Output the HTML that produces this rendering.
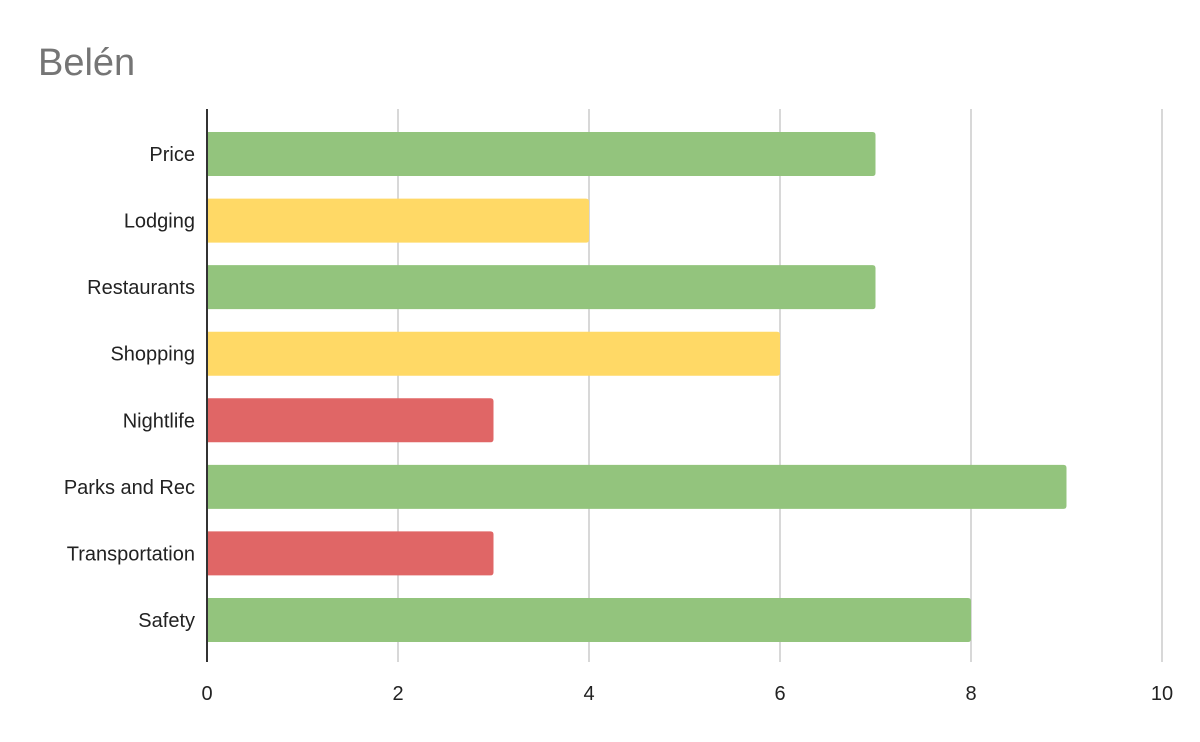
<!DOCTYPE html>
<html><head><meta charset="utf-8"><style>
html,body{margin:0;padding:0;background:#fff;}
svg{display:block;font-family:"Liberation Sans",Arial,sans-serif;}
</style></head><body>
<svg id="chart" width="1200" height="742">
<text x="38" y="75" font-size="38" fill="#757575">Belén</text>
<g id="grid"></g><g id="bars"></g><g id="labels"></g>
<line x1="207" y1="109" x2="207" y2="662" stroke="#333" stroke-width="2"/>
</svg>
<script>
const categories = ["Price","Lodging","Restaurants","Shopping","Nightlife","Parks and Rec","Transportation","Safety"];
const values = [7,4,7,6,3,9,3,8];
const barColors = ["#93c47d","#ffd966","#93c47d","#ffd966","#e06666","#93c47d","#e06666","#93c47d"];
const ticks = [0,2,4,6,8,10];
const NS="http://www.w3.org/2000/svg";
const x0=207,x1=1162,xmax=10;
const xs=v=>x0+(x1-x0)*v/xmax;
const firstC=154,step=66.57,bh=44;
const ys=i=>firstC+i*step;
const grid=document.getElementById('grid'),bars=document.getElementById('bars'),labels=document.getElementById('labels');
function mk(tag,attrs,parent){const e=document.createElementNS(NS,tag);for(const k in attrs)e.setAttribute(k,attrs[k]);parent.appendChild(e);return e;}
ticks.forEach(t=>{
  if(t>0){const l=mk('line',{x1:xs(t),x2:xs(t),y1:109,y2:662,stroke:'#cccccc','stroke-width':1.5},grid);
  
  }
  const tx=mk('text',{x:xs(t),y:700,'font-size':20,'text-anchor':'middle',fill:'#222'},labels);
  tx.textContent=t;
  
  
});
categories.forEach((c,i)=>{
  const w=xs(values[i])-x0,y=ys(i)-bh/2,r=3;
  const p=mk('path',{d:`M${x0},${y}H${x0+w-r}Q${x0+w},${y} ${x0+w},${y+r}V${y+bh-r}Q${x0+w},${y+bh} ${x0+w-r},${y+bh}H${x0}Z`,fill:barColors[i]},bars);
  
  
  const t=mk('text',{x:195,y:ys(i)+7,'font-size':20,'text-anchor':'end',fill:'#222'},labels);
  t.textContent=c;
  
  
});
</script>
</body></html>
